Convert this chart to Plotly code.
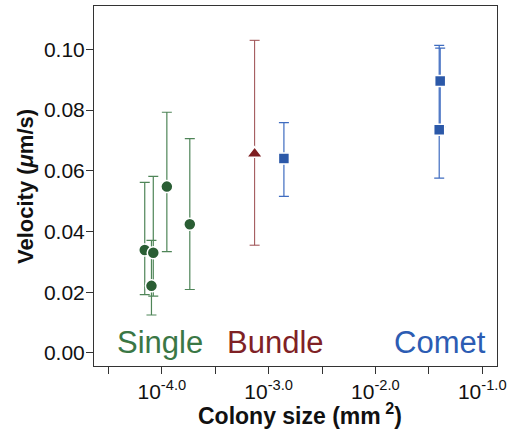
import plotly.graph_objects as go

# Single colonies
single_x = [10**-4.16, 10**-4.08, 10**-4.097, 10**-3.953, 10**-3.738]
single_y = [0.0339, 0.0330, 0.0221, 0.0548, 0.0424]
single_hi = [0.0562, 0.0582, 0.0371, 0.0793, 0.0706]
single_lo = [0.0192, 0.0187, 0.0125, 0.0334, 0.0209]

# Bundle
bundle_x = [10**-3.131]
bundle_y = [0.0656]
bundle_hi = [0.1030]
bundle_lo = [0.0355]

# Comet
comet_x = [10**-2.857, 10**-1.394, 10**-1.403]
comet_y = [0.0641, 0.0896, 0.0735]
comet_hi = [0.0759, 0.1004, 0.1013]
comet_lo = [0.0516, 0.0745, 0.0576]

# Axis ticks
x_tickvals = [10**-4.5, 1e-4, 10**-3.5, 1e-3, 10**-2.5, 1e-2, 10**-1.5, 1e-1]
x_ticktext = ["", "10<sup>-4.0</sup>", "", "10<sup>-3.0</sup>", "", "10<sup>-2.0</sup>", "", "10<sup>-1.0</sup>"]
y_tickvals = [0.00, 0.02, 0.04, 0.06, 0.08, 0.10]
y_ticktext = ["0.00", "0.02", "0.04", "0.06", "0.08", "0.10"]

GREEN = "#2a5e34"
GREEN_ERR = "#4f8558"
RED = "#7f1f22"
BLUE = "#2b58a8"
BLUE_ERR = "#3f6cc0"

def err(y, hi, lo):
    return dict(type="data", symmetric=False,
                array=[h - v for h, v in zip(hi, y)],
                arrayminus=[v - l for l, v in zip(lo, y)])

fig = go.Figure()
fig.add_trace(go.Scatter(
    x=single_x, y=single_y, mode="markers",
    marker=dict(symbol="circle", size=12, color=GREEN, line=dict(color="white", width=1.5)),
    error_y=dict(**err(single_y, single_hi, single_lo), color=GREEN_ERR, thickness=1.2, width=5),
    showlegend=False))
fig.add_trace(go.Scatter(
    x=bundle_x, y=bundle_y, mode="markers",
    marker=dict(symbol="triangle-up", size=14, color=RED, line=dict(color="white", width=1.5)),
    error_y=dict(**err(bundle_y, bundle_hi, bundle_lo), color="#9a4a4d", thickness=1, width=5),
    showlegend=False))
fig.add_trace(go.Scatter(
    x=comet_x, y=comet_y, mode="markers",
    marker=dict(symbol="square", size=11, color=BLUE, line=dict(color="white", width=1.5)),
    error_y=dict(**err(comet_y, comet_hi, comet_lo), color=BLUE_ERR, thickness=1.2, width=5),
    showlegend=False))

font_family = "Liberation Sans, Arial, sans-serif"
group_labels = ["Single", "Bundle", "Comet"]
group_label_x = [-4.02, -2.94, -1.40]
group_label_colors = ["#3a7745", "#7f2125", "#2c5cb3"]
for txt, lx, col in zip(group_labels, group_label_x, group_label_colors):
    fig.add_annotation(x=lx, y=0.0, xref="x", yref="y", text=txt, showarrow=False,
                       yanchor="bottom", xanchor="center", yshift=-9,
                       font=dict(family=font_family, size=31, color=col))

W, H = 514, 432
L, R, T, B = 94, 17, 6, 66
def px_x(p):
    return (p - L) / (W - L - R)
def px_y(p):
    return 1 - (p - T) / (H - T - B)

fig.add_annotation(x=px_x(300), y=px_y(414), xref="paper", yref="paper",
                   text="<b>Colony size (mm\u2009<sup>2</sup>)</b>", showarrow=False,
                   xanchor="center", yanchor="middle",
                   font=dict(size=23, family=font_family, color="#111111"))
fig.add_annotation(x=px_x(25), y=px_y(187), xref="paper", yref="paper",
                   text="<b>Velocity (<i>μ</i>m/s)</b>", showarrow=False, textangle=-90,
                   xanchor="center", yanchor="middle",
                   font=dict(size=22, family=font_family, color="#111111"))

fig.update_layout(
    width=W, height=H,
    margin=dict(l=L, r=R, t=T, b=B, autoexpand=False),
    paper_bgcolor="white", plot_bgcolor="white",
    font=dict(family=font_family, color="#111111"),
    xaxis=dict(type="log", range=[-4.635, -0.862], automargin=False,
               tickvals=x_tickvals, ticktext=x_ticktext,
               ticks="outside", ticklen=7, tickwidth=1, tickcolor="#333333",
               showline=True, linecolor="#333333", linewidth=1, mirror=True,
               showgrid=False, zeroline=False,
               tickfont=dict(size=21, family=font_family, color="#111111")),
    yaxis=dict(range=[-0.0043, 0.1143], automargin=False,
               tickvals=y_tickvals, ticktext=y_ticktext,
               ticks="outside", ticklen=7, tickwidth=1, tickcolor="#333333",
               showline=True, linecolor="#333333", linewidth=1, mirror=True,
               showgrid=False, zeroline=False, ticklabelstandoff=-3,
               tickfont=dict(size=21, family=font_family, color="#111111")),
)

fig.write_html("out.html", config={"displayModeBar": False},
               post_script="document.body.style.margin='0';document.body.style.padding='0';")
